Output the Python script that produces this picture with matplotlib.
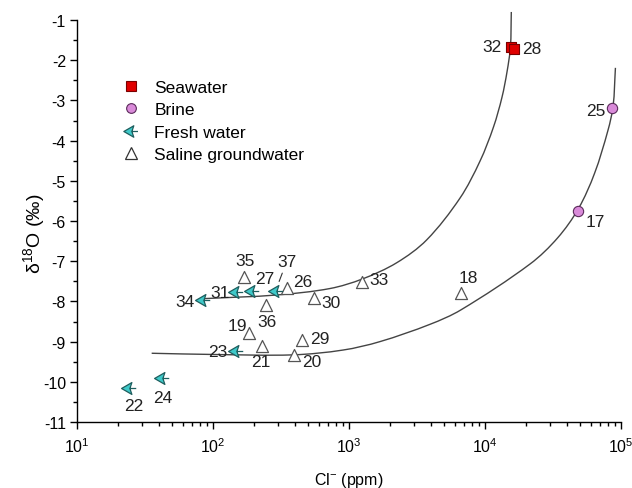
import numpy as np
import matplotlib
matplotlib.use("Agg")
import matplotlib.pyplot as plt
from matplotlib.path import Path
from matplotlib.patches import PathPatch
from matplotlib.lines import Line2D

plt.rcParams['font.family'] = ['Liberation Sans', 'DejaVu Sans']
plt.rcParams['mathtext.fontset'] = 'custom'
plt.rcParams['mathtext.rm'] = 'Liberation Sans'
plt.rcParams['mathtext.it'] = 'Liberation Sans:italic'

# ---------------- data ----------------
seawater_ids = ['32', '28']
seawater_cl = [15400, 16300]
seawater_d18o = [-1.68, -1.73]

brine_ids = ['25', '17']
brine_cl = [86500, 48600]
brine_d18o = [-3.18, -5.74]

fresh_ids = ['27', '31', '34', '37', '23', '24', '22']
fresh_cl = [193, 148, 85, 289, 148, 42, 24.3]
fresh_d18o = [-7.73, -7.77, -7.97, -7.73, -9.23, -9.91, -10.15]

saline_ids = ['35', '26', '36', '30', '33', '18', '19', '21', '29', '20']
saline_cl = [170, 348, 245, 556, 1255, 6650, 184, 231, 449, 394]
saline_d18o = [-7.40, -7.67, -8.09, -7.92, -7.52, -7.79, -8.79, -9.12, -8.96, -9.33]

# mixing curves
upper_curve_cl = [87.3, 295.5, 724, 1259, 2239, 3726, 6550, 9190, 11550, 13335, 14516, 15376, 15612]
upper_curve_d18o = [-7.93, -7.84, -7.68, -7.44, -7.04, -6.47, -5.43, -4.51, -3.66, -2.92, -2.29, -1.68, -0.80]

lower_curve_cl = [35.4, 100, 387, 904, 1690, 3941, 6660, 21430, 34200, 48690, 63970, 80260, 87500, 91000]
lower_curve_d18o = [-9.29, -9.32, -9.33, -9.21, -9.00, -8.57, -8.21, -7.07, -6.42, -5.69, -4.81, -3.74, -3.14, -2.19]

legend_labels = ['Seawater', 'Brine', 'Fresh water', 'Saline groundwater']

# label offsets in pixels (dx right, dy up)
label_offsets = {
    '32': (-19, 1), '28': (18, 1), '25': (-17, -3), '17': (17, -11),
    '18': (7, 15), '33': (17, 3), '35': (1, 17), '27': (13, 12),
    '37': (11, 29), '26': (16, 7), '31': (-16, 0), '34': (-18, -1),
    '30': (17, -4), '36': (1, -16), '19': (-12, 8), '29': (18, 1),
    '23': (-18, -1), '21': (-2, -15), '20': (18, -7), '24': (1, -19),
    '22': (4, -18),
}

# ---------------- figure ----------------
W, H = 632, 489
fig = plt.figure(figsize=(W / 100, H / 100), dpi=100)
ax = fig.add_axes([77 / W, 1 - 423 / H, 544 / W, 402 / H])
ax.set_xscale('log')
ax.set_xlim(10, 1e5)
ax.set_ylim(-11, -1)

for s in ['top', 'right']:
    ax.spines[s].set_visible(False)
for s in ['left', 'bottom']:
    ax.spines[s].set_linewidth(1.0)

ax.set_yticks(np.arange(-11, 0, 1))
ax.set_yticks(np.arange(-10.5, -1, 1), minor=True)
ax.tick_params(which='major', direction='out', length=5, width=1, labelsize=11.5, pad=3)
ax.tick_params(axis='x', which='major', pad=5)
ax.tick_params(which='minor', direction='out', length=3, width=1)
ax.set_yticklabels([str(v) for v in range(-11, 0)])

ax.set_xlabel('Cl$^{-}$ (ppm)', fontsize=11.5, labelpad=11)
ax.set_ylabel('δ$^{18}$O (‰)', fontsize=14)
ax.yaxis.set_label_coords(-0.056, 0.47)


def smooth_path(xs, ys):
    """Chord-length cubic Hermite spline through read points (drawn as Bezier segments)."""
    sx, sy = 136.0, 40.2  # equalise the two axes' pixel scales
    P = np.column_stack([np.log10(np.asarray(xs, float)) * sx, np.asarray(ys, float) * sy])
    d = np.r_[0, np.cumsum(np.hypot(*np.diff(P, axis=0).T))]
    n = len(P)
    M = np.zeros_like(P)
    for i in range(n):
        a, b = max(i - 1, 0), min(i + 1, n - 1)
        M[i] = (P[b] - P[a]) / (d[b] - d[a])
    verts = [P[0]]
    codes = [Path.MOVETO]
    for i in range(n - 1):
        h = d[i + 1] - d[i]
        verts += [P[i] + M[i] * h / 3, P[i + 1] - M[i + 1] * h / 3, P[i + 1]]
        codes += [Path.CURVE4] * 3
    V = np.array(verts)
    V[:, 0] = 10 ** (V[:, 0] / sx)
    V[:, 1] = V[:, 1] / sy
    return Path(V, codes)


for cx, cy in [(upper_curve_cl, upper_curve_d18o), (lower_curve_cl, lower_curve_d18o)]:
    ax.add_patch(PathPatch(smooth_path(cx, cy), fill=False, edgecolor='#444444',
                           lw=1.0, clip_on=False, zorder=2))

# fresh water arrow marker (arrow head pointing left with a short tail)
arrow_path = Path(
    [(-1.0, 0.0), (0.3, 0.75), (0.05, 0.0), (0.3, -0.75), (-1.0, 0.0),
     (0.05, 0.0), (0.85, 0.0)],
    [Path.MOVETO, Path.LINETO, Path.LINETO, Path.LINETO, Path.CLOSEPOLY,
     Path.MOVETO, Path.LINETO])

sty_sea = dict(marker='s', s=55, c='#e00000', edgecolors='#7a0000', linewidths=0.8, zorder=4)
sty_brine = dict(marker='o', s=55, c='#d98ad9', edgecolors='#5a2a5a', linewidths=0.8, zorder=4)
sty_fresh = dict(marker=arrow_path, s=130, c='#3ec9c9', edgecolors='#1e5e5e', linewidths=0.9, zorder=4)
sty_saline = dict(marker='^', s=75, c='white', edgecolors='#555555', linewidths=0.9, zorder=3)

ax.scatter(seawater_cl, seawater_d18o, **sty_sea)
ax.scatter(brine_cl, brine_d18o, **sty_brine)
ax.scatter(fresh_cl, fresh_d18o, **sty_fresh)
ax.scatter(saline_cl, saline_d18o, **sty_saline)

# labels
all_ids = seawater_ids + brine_ids + fresh_ids + saline_ids
all_cl = seawater_cl + brine_cl + fresh_cl + saline_cl
all_d = seawater_d18o + brine_d18o + fresh_d18o + saline_d18o
for i, x, y in zip(all_ids, all_cl, all_d):
    dx, dy = label_offsets[i]
    kw = {}
    if i == '37':
        kw['arrowprops'] = dict(arrowstyle='-', color='#333333', lw=0.8, shrinkA=1, shrinkB=7)
    ax.annotate(i, xy=(x, y), xytext=(dx, dy), textcoords='offset pixels',
                ha='center', va='center', fontsize=12.5, color='#222222', zorder=5, **kw)

# legend
handles = [
    Line2D([], [], ls='none', marker='s', ms=7, mfc='#e00000', mec='#7a0000', mew=0.8),
    Line2D([], [], ls='none', marker='o', ms=7, mfc='#d98ad9', mec='#5a2a5a', mew=0.8),
    Line2D([], [], ls='none', marker=arrow_path, ms=11, mfc='#3ec9c9', mec='#1e5e5e', mew=0.9),
    Line2D([], [], ls='none', marker='^', ms=8.5, mfc='white', mec='#333333', mew=0.9),
]
fig.legend(handles, legend_labels, loc='upper left', bbox_to_anchor=(124 / W, 1 - 81 / H),
           frameon=False, fontsize=12.5, handlelength=0.8, handletextpad=0.95,
           labelspacing=0.41, borderpad=0, borderaxespad=0)

fig.savefig('out.png', dpi=100)
